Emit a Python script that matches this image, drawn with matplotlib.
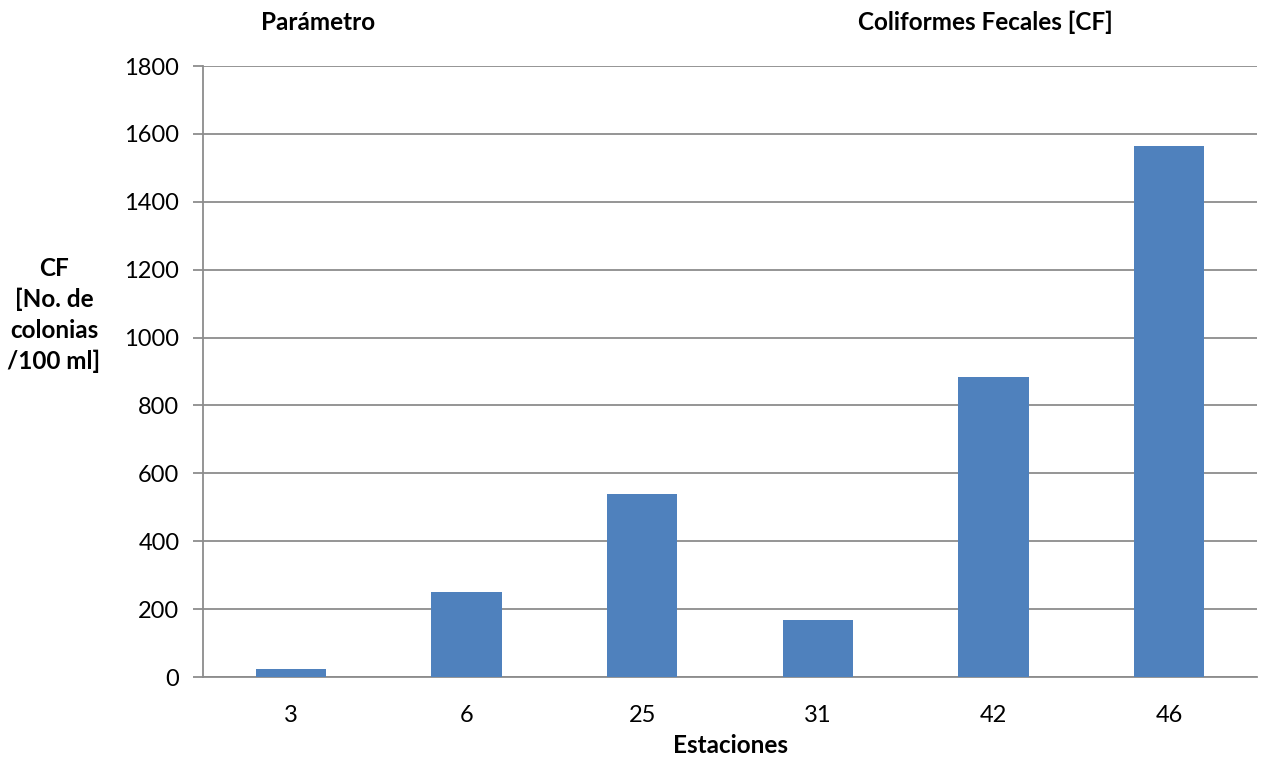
import matplotlib.pyplot as plt

plt.rcParams['font.family'] = ['Lato', 'DejaVu Sans']

estaciones = ['3', '6', '25', '31', '42', '46']
cf = [23, 250, 538, 168, 884, 1564]
y_ticks = list(range(0, 1801, 200))

fig = plt.figure(figsize=(12.64, 7.65), dpi=100)
ax = fig.add_axes([0.1606, 0.115, 0.8339, 0.7987])

x = range(len(estaciones))
ax.bar(x, cf, width=0.4, color='#4F81BD', zorder=3)

ax.set_xlim(-0.5, len(estaciones) - 0.5)
ax.set_ylim(0, 1800)
ax.set_yticks(y_ticks)
ax.set_xticks(list(x))
ax.set_xticklabels(estaciones)
ax.yaxis.grid(True, color='#8C8C8C', linewidth=1.3, zorder=0)
for s in ['top', 'right']:
    ax.spines[s].set_visible(False)
ax.spines['left'].set_color('#8C8C8C')
ax.spines['bottom'].set_color('#8C8C8C')
ax.spines['left'].set_linewidth(1.3)
ax.spines['bottom'].set_linewidth(1.3)
ax.tick_params(axis='y', length=7, color='#8C8C8C', width=1.3, labelsize=17, pad=10)
ax.tick_params(axis='x', length=0, labelsize=17, pad=20)

ax.set_xlabel('Estaciones', fontsize=17.5, fontweight='bold', labelpad=6)
fig.text(54 / 1264, 1 - 315 / 765, 'CF\n[No. de\ncolonias\n/100 ml]', ha='center', va='center',
         fontsize=17.5, fontweight='bold', linespacing=1.4)
fig.text(318 / 1264, 1 - 22 / 765, 'Parámetro', ha='center', va='center', fontsize=17.5, fontweight='bold')
fig.text(985 / 1264, 1 - 22 / 765, 'Coliformes Fecales [CF]', ha='center', va='center',
         fontsize=17.5, fontweight='bold')

fig.savefig('out.png', dpi=100)
